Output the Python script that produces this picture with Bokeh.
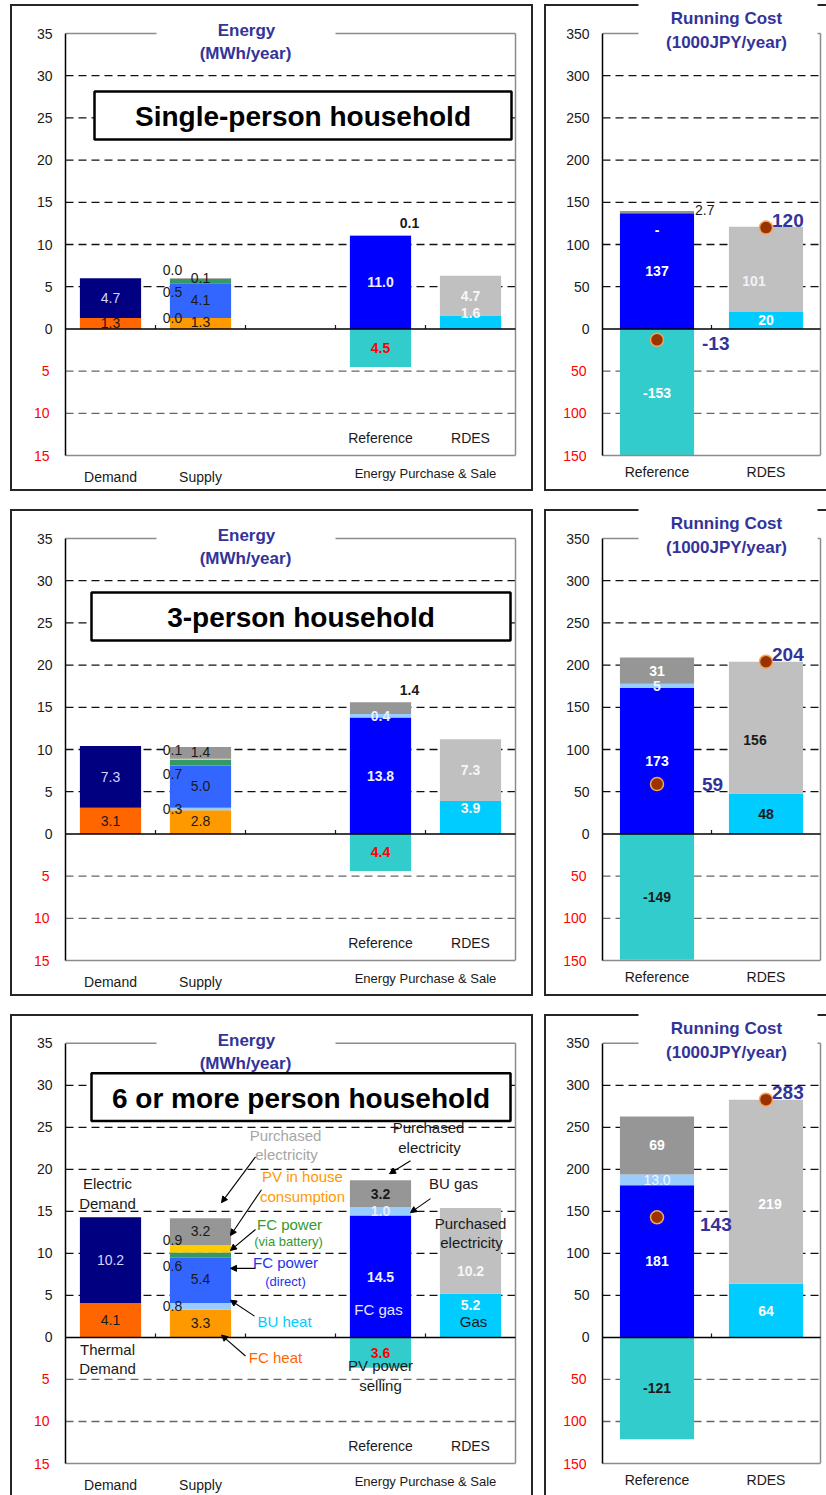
import numpy as np
from bokeh.core.properties import value
from bokeh.embed import file_html
from bokeh.layouts import column, row
from bokeh.models import (Arrow, BoxAnnotation, ColumnDataSource, FixedTicker, Label,
                          LinearAxis, NormalHead, Range1d)
from bokeh.plotting import figure
from bokeh.resources import INLINE

households = ["Single-person household", "3-person household", "6 or more person household"]

# ---- energy balance (MWh/year) ----
demand_thermal = [1.3, 3.1, 4.1]
demand_electric = [4.7, 7.3, 10.2]

supply_fc_heat = [1.3, 2.8, 3.3]
supply_bu_heat = [0.0, 0.3, 0.8]
supply_fc_power_direct = [4.1, 5.0, 5.4]
supply_fc_power_battery = [0.5, 0.7, 0.6]
supply_pv_in_house = [0.0, 0.1, 0.9]
supply_purchased_elec = [0.1, 1.4, 3.2]

ref_fc_gas = [11.0, 13.8, 14.5]
ref_bu_gas = [0.0, 0.4, 1.0]
ref_purchased_elec = [0.1, 1.4, 3.2]
ref_pv_selling = [4.5, 4.4, 3.6]

rdes_gas = [1.6, 3.9, 5.2]
rdes_purchased_elec = [4.7, 7.3, 10.2]

# ---- running cost (1000 JPY/year) ----
cost_ref_fc_gas = [137, 173, 181]
cost_ref_bu_gas = [0, 5, 13.0]
cost_ref_purchased_elec = [2.7, 31, 69]
cost_ref_pv_selling = [-153, -149, -121]
cost_ref_net = [-13, 59, 143]
cost_rdes_gas = [20, 48, 64]
cost_rdes_purchased_elec = [101, 156, 219]
cost_rdes_net = [120, 204, 283]

# ---- axes ----
energy_ticks = [0, 5, 10, 15, 20, 25, 30, 35]
energy_below_ticks = [-5, -10, -15]
cost_ticks = [0, 50, 100, 150, 200, 250, 300, 350]
cost_below_ticks = [-50, -100, -150]
energy_slots = ["Demand", "Supply", "", "Reference", "RDES"]
cost_slots = ["Reference", "RDES"]

# ---- styling ----
FONT = "Liberation Sans"
INK = "#1a1a1a"
TITLE_BLUE = "#333399"
FRAME_GRAY = "#8c8c8c"
WHITE = "#FFFFFF"
COLORS = dict(thermal="#FF6600", electric="#000080", fc_heat="#FF9900", bu="#99CCFF",
              fc_direct="#3366FF", fc_battery="#339966", pv="#FFCC00", grid="#969696",
              fc_gas="#0000FF", pv_sell="#33CCCC", gas="#00CCFF", silver="#C0C0C0",
              dot="#993300", dot_ring="#F5A45D")

ROW_HEIGHTS = [505, 505, 485]
LEFT_W, RIGHT_W = 538, 288
FRAME_TOP, FRAME_H = 33, 422      # plot area inside each panel, in pixels
BAR_W = 0.68


class PixelMap:
    """Converts canvas pixel positions of one panel into its data coordinates."""

    def __init__(self, left, top, width, height, x_range, y_range):
        self.left, self.top, self.width, self.height = left, top, width, height
        self.x0, self.x1 = x_range
        self.y0, self.y1 = y_range

    def x(self, px):
        return self.x0 + (px - self.left) * (self.x1 - self.x0) / self.width

    def y(self, py):
        return self.y1 - (py - self.top) * (self.y1 - self.y0) / self.height

    def h(self, npx):
        return npx * (self.y1 - self.y0) / self.height

    def px(self, dv):
        return dv * self.height / (self.y1 - self.y0)


def txt(p, x, y, s, color=INK, bold=False, size="14px", dx=0, dy=0, align="center"):
    p.text(x=[x], y=[y], text=[s], x_offset=dx, y_offset=dy, text_align=align,
           text_baseline="middle", text_color=color, text_font=value(FONT),
           text_font_size=size, text_font_style="bold" if bold else "normal")


def note(p, m, px, py, s, color=INK, size="14px", bold=False, align="center"):
    p.add_layout(Label(x=m.x(px), y=m.y(py), text=s, text_align=align, text_baseline="middle",
                       text_color=color, text_font=FONT, text_font_size=size,
                       text_font_style="bold" if bold else "normal"))


def rect(p, m, l, t, r, b, fill=None, line=INK, lw=2.0):
    p.add_layout(BoxAnnotation(left=m.x(l), right=m.x(r), top=m.y(t), bottom=m.y(b),
                               fill_color=fill or "white", fill_alpha=1 if fill else 0,
                               line_color=line or "white", line_alpha=1 if line else 0,
                               line_width=lw))


def stack(p, x, layers):
    vals = np.array([v for v, _ in layers], dtype=float)
    tops = np.cumsum(vals)
    bottoms = tops - vals
    src = ColumnDataSource(dict(x=[x] * len(layers), bottom=bottoms, top=tops,
                                color=[c for _, c in layers]))
    p.vbar(x="x", bottom="bottom", top="top", width=BAR_W, fill_color="color",
           line_color=None, source=src)
    return list(zip(bottoms, tops))


def mid(seg):
    return (seg[0] + seg[1]) / 2


def fmt1(v):
    return f"{v:.1f}"


def cost_txt(v):
    return "-" if v == 0 else f"{v}"


def border_css(left, right, top=4, bottom=489, t=2, color="#262626"):
    """Panel frame drawn as CSS background strokes under the transparent canvas."""
    g = f"linear-gradient({color}, {color})"
    span_w = (right if right is not None else 1000) - left
    span_h = bottom + t - top
    layers = [(f"{t}px {span_h}px", f"{left}px {top}px"),
              (f"{span_w}px {t}px", f"{left}px {top}px"),
              (f"{span_w}px {t}px", f"{left}px {bottom}px")]
    if right is not None:
        layers.append((f"{t}px {span_h}px", f"{right - t}px {top}px"))
    return {"background-image": ", ".join([g] * len(layers)),
            "background-size": ", ".join(s for s, _ in layers),
            "background-position": ", ".join(pos for _, pos in layers),
            "background-repeat": "no-repeat"}


AXIS_COMMON = dict(major_tick_line_color=None, minor_tick_line_color=None, major_tick_in=0,
                   major_tick_out=0, major_label_text_font=FONT)


def base_figure(width, height, frame_left, n_slots, xs_px, ys_px, lo, hi, ticks, below_ticks,
                red_standoff, css):
    frame_w = n_slots * xs_px + 2
    frame_h = FRAME_TOP + FRAME_H
    x_range = (0, frame_w / xs_px)
    y_range = (lo, hi + FRAME_TOP / ys_px)
    p = figure(width=width, height=height, x_range=Range1d(*x_range), y_range=Range1d(*y_range),
               min_border_left=frame_left, min_border_right=width - frame_left - frame_w,
               min_border_top=0, min_border_bottom=height - frame_h, title=None, tools="",
               toolbar_location=None, output_backend="svg", x_axis_type=None,
               y_axis_type=None, styles=css)
    p.outline_line_color = None
    p.border_fill_color = None
    p.background_fill_color = None
    m = PixelMap(frame_left, 0, frame_w, frame_h, x_range, y_range)

    # dashed value grid and the grey plot-area edges
    pos = [t for t in ticks if 0 < t < hi]
    neg = [t for t in below_ticks if t > lo]
    p.segment(x0=0, y0=pos, x1=n_slots, y1=pos, line_color="#111111", line_dash="8 5",
              line_width=1.3)
    p.segment(x0=0, y0=neg, x1=n_slots, y1=neg, line_color="#666666", line_dash="8 5",
              line_width=1.3)
    p.segment(x0=[0, n_slots], y0=[hi, lo], x1=[n_slots, n_slots], y1=[hi, hi],
              line_color=FRAME_GRAY, line_width=1.5)

    p.add_layout(LinearAxis(ticker=FixedTicker(ticks=ticks), bounds=(lo, hi),
                            axis_line_color="black", axis_line_width=1.5,
                            major_label_standoff=13, major_label_text_color=INK,
                            major_label_text_font_size="14px", **AXIS_COMMON), "left")
    # amounts below zero are read downward and printed in red
    p.add_layout(LinearAxis(ticker=FixedTicker(ticks=below_ticks),
                            major_label_overrides={t: str(abs(t)) for t in below_ticks},
                            axis_line_color=None, major_label_standoff=red_standoff,
                            major_label_text_color="#FF0000",
                            major_label_text_font_size="14px", **AXIS_COMMON), "left")
    return p, m


def category_axis(p, ticks, names, standoff, size="14px", line=None, bounds="auto"):
    p.add_layout(LinearAxis(ticker=FixedTicker(ticks=ticks),
                            major_label_overrides=dict(zip(ticks, names)),
                            axis_line_color=line, axis_line_width=1.5, bounds=bounds,
                            major_label_standoff=standoff, major_label_text_color=INK,
                            major_label_text_font_size=size, **AXIS_COMMON), "below")


def zero_line(p, m, n_slots):
    seps = list(range(1, n_slots))
    p.segment(x0=seps, y0=[0] * len(seps), x1=seps, y1=[m.h(4)] * len(seps),
              line_color=INK, line_width=1.2)
    p.segment(x0=[0], y0=[0], x1=[n_slots], y1=[0], line_color="black", line_width=1.5)


HOUSEHOLD_BOX = [(94, 91, 511, 139), (91, 87, 510, 135), (91, 63, 510, 111)]
RDES_ELEC_DY = [0, 0, 20]
RDES_GAS_DY = [-2, 7.5, 11]
SUPPLY_SIDE_DY = {1: 0, 3: 11, 4: -9}

# call-outs explaining the stacks of the largest household
CALLOUT_TEXT = [
    ("Electric", INK, "15px", 107, 174), ("Demand", INK, "15px", 107, 194),
    ("Thermal", INK, "15px", 107, 340), ("Demand", INK, "15px", 107, 360),
    ("Purchased", "#A6A6A6", "15px", 285, 126), ("electricity", "#A6A6A6", "15px", 286, 145),
    ("PV in house", "#FF9900", "15px", 302, 167), ("consumption", "#FF9900", "15px", 302, 187),
    ("FC power", "#339933", "15px", 289, 215), ("(via battery)", "#339933", "13px", 288, 232),
    ("FC power", "#2233EE", "15px", 285, 253), ("(direct)", "#2233EE", "13px", 285, 272),
    ("BU heat", "#00CCFF", "15px", 284, 312),
    ("FC heat", "#FF6600", "15px", 275, 349),
    ("Purchased", INK, "15px", 428, 118), ("electricity", INK, "15px", 429, 138),
    ("BU gas", INK, "15px", 453, 174),
    ("Purchased", INK, "15px", 470, 214), ("electricity", INK, "15px", 471, 233),
    ("FC gas", "#E6E6FF", "15px", 378, 300),
    ("PV power", INK, "15px", 380, 357), ("selling", INK, "15px", 380, 377),
    ("Gas", INK, "15px", 473, 312),
]
CALLOUT_ARROWS = [
    (255, 147, 221, 193), (261, 180, 230, 226), (255, 220, 230, 241), (255, 259, 230, 259),
    (254, 307, 230, 291), (245, 347, 221, 326), (410, 151, 389, 164), (430, 189, 410, 203),
]


def energy_panel(i, height):
    n = len(energy_slots)
    lo, hi = energy_below_ticks[-1], energy_ticks[-1]
    p, m = base_figure(LEFT_W, height, 65, n, 90, FRAME_H / (hi - lo), lo, hi,
                       energy_ticks, energy_below_ticks, -16, border_css(10, 533))
    xs = {name: k + 0.5 for k, name in enumerate(energy_slots) if name}
    category_axis(p, [xs["Demand"], xs["Supply"]], ["Demand", "Supply"], 13,
                  line=FRAME_GRAY, bounds=(0, n))
    category_axis(p, [(xs["Reference"] + xs["RDES"]) / 2], ["Energy Purchase & Sale"], -22,
                  size="13px")

    # demand
    dem = stack(p, xs["Demand"], [(demand_thermal[i], COLORS["thermal"]),
                                  (demand_electric[i], COLORS["electric"])])
    # supply
    sup_vals = [supply_fc_heat[i], supply_bu_heat[i], supply_fc_power_direct[i],
                supply_fc_power_battery[i], supply_pv_in_house[i], supply_purchased_elec[i]]
    sup_cols = [COLORS["fc_heat"], COLORS["bu"], COLORS["fc_direct"], COLORS["fc_battery"],
                COLORS["pv"], COLORS["grid"]]
    sup = stack(p, xs["Supply"], list(zip(sup_vals, sup_cols)))
    # conventional reference system
    xr = xs["Reference"]
    ref = stack(p, xr, [(ref_fc_gas[i], COLORS["fc_gas"]), (ref_bu_gas[i], COLORS["bu"]),
                        (ref_purchased_elec[i], COLORS["grid"])])
    p.vbar(x=[xr], bottom=[0], top=[-ref_pv_selling[i]], width=BAR_W,
           fill_color=COLORS["pv_sell"], line_color=None)
    # RDES
    xd = xs["RDES"]
    rds = stack(p, xd, [(rdes_gas[i], COLORS["gas"]), (rdes_purchased_elec[i], COLORS["silver"])])
    zero_line(p, m, n)

    txt(p, xs["Demand"], mid(dem[0]), fmt1(demand_thermal[i]), INK)
    txt(p, xs["Demand"], mid(dem[1]), fmt1(demand_electric[i]), "#D6D6FF")
    for k, (v, seg) in enumerate(zip(sup_vals, sup)):
        if k in SUPPLY_SIDE_DY:
            txt(p, xs["Supply"], mid(seg), fmt1(v), INK, dx=-28, dy=SUPPLY_SIDE_DY[k])
        else:
            txt(p, xs["Supply"], mid(seg), fmt1(v), INK, dy=-1)

    txt(p, xr, mid(ref[0]), fmt1(ref_fc_gas[i]), "#EEEEFF", bold=True)
    if ref_bu_gas[i] > 0:
        txt(p, xr, mid(ref[1]), fmt1(ref_bu_gas[i]), "#E4F0FF", bold=True)
    if m.px(ref[2][1] - ref[2][0]) < 15:
        txt(p, xr, ref[2][1], fmt1(ref_purchased_elec[i]), INK, bold=True, dx=29, dy=-12)
    else:
        txt(p, xr, mid(ref[2]), fmt1(ref_purchased_elec[i]), INK, bold=True)
    txt(p, xr, -ref_pv_selling[i] / 2, fmt1(ref_pv_selling[i]), "#FF0000", bold=True)

    txt(p, xd, mid(rds[1]), fmt1(rdes_purchased_elec[i]), "#F7F7F7", bold=True, dy=RDES_ELEC_DY[i])
    txt(p, xd, rds[0][1], fmt1(rdes_gas[i]), "#F7F7F7", bold=True, dy=RDES_GAS_DY[i])

    for name in ("Reference", "RDES"):
        txt(p, xs[name], m.y(437), name, INK)

    # titles
    rect(p, m, 156, 27, 335, 39, fill="white", line=None)
    note(p, m, 246, 30, "Energy", TITLE_BLUE, "17px", bold=True)
    note(p, m, 245, 53, "(MWh/year)", TITLE_BLUE, "17px", bold=True)
    l, t, r, b = HOUSEHOLD_BOX[i]
    rect(p, m, l, t, r, b, fill="white", line="black", lw=2.5)
    note(p, m, (l + r) / 2, (t + b) / 2 + 1, households[i], "black", "28px", bold=True)

    if i == 2:
        for s, color, size, px, py in CALLOUT_TEXT:
            note(p, m, px, py, s, color, size)
        for x0, y0, x1, y1 in CALLOUT_ARROWS:
            p.add_layout(Arrow(x_start=m.x(x0), y_start=m.y(y0), x_end=m.x(x1), y_end=m.y(y1),
                               line_color="black", line_width=1.1,
                               end=NormalHead(size=6, fill_color="black", line_color="black",
                                              line_width=1)))
    return p


SELL_LABEL_COLOR = ["#FFFFFF", INK, INK]
GAS_LABEL_COLOR = ["#FFFFFF", INK, "#FFFFFF"]
ELEC_LABEL_COLOR = ["#F2F2F2", INK, "#FFFFFF"]
ELEC_LABEL_DX = [-12, -11, 4]
BU_LABEL_BOLD = [True, True, False]
REF_NET_DX = [45, 45, 43]
REF_NET_DY = [4, 0, 7]


def cost_panel(i, height):
    n = len(cost_slots)
    lo, hi = cost_below_ticks[-1], cost_ticks[-1]
    p, m = base_figure(RIGHT_W, height, 64, n, 109, FRAME_H / (hi - lo), lo, hi,
                       cost_ticks, cost_below_ticks, -23, border_css(6, None))
    xs = {name: k + 0.5 for k, name in enumerate(cost_slots)}
    category_axis(p, list(xs.values()), list(xs.keys()), 8, line=FRAME_GRAY, bounds=(0, n))

    xr, xd = xs["Reference"], xs["RDES"]
    ref = stack(p, xr, [(cost_ref_fc_gas[i], COLORS["fc_gas"]), (cost_ref_bu_gas[i], COLORS["bu"]),
                        (cost_ref_purchased_elec[i], COLORS["grid"])])
    p.vbar(x=[xr], bottom=[0], top=[cost_ref_pv_selling[i]], width=BAR_W,
           fill_color=COLORS["pv_sell"], line_color=None)
    rds = stack(p, xd, [(cost_rdes_gas[i], COLORS["gas"]),
                        (cost_rdes_purchased_elec[i], COLORS["silver"])])
    zero_line(p, m, n)
    p.scatter(x=[xr, xd], y=[cost_ref_net[i], cost_rdes_net[i]], size=13,
              fill_color=COLORS["dot"], line_color=COLORS["dot_ring"], line_width=1.5)

    txt(p, xr, mid(ref[0]), cost_txt(cost_ref_fc_gas[i]), WHITE, bold=True)
    v = cost_ref_bu_gas[i]
    if v == 0:
        txt(p, xr, ref[1][1], cost_txt(v), WHITE, bold=True, dy=17)
    else:
        txt(p, xr, mid(ref[1]), cost_txt(v), "#F0F7FF", bold=BU_LABEL_BOLD[i])
    v = cost_ref_purchased_elec[i]
    if m.px(v) < 15:
        txt(p, xr, ref[2][1], cost_txt(v), INK, dx=38, dy=-1, align="left")
    else:
        txt(p, xr, mid(ref[2]), cost_txt(v), WHITE, bold=True)
    txt(p, xr, cost_ref_pv_selling[i] / 2, cost_txt(cost_ref_pv_selling[i]),
        SELL_LABEL_COLOR[i], bold=True)
    txt(p, xd, mid(rds[0]), cost_txt(cost_rdes_gas[i]), GAS_LABEL_COLOR[i], bold=True)
    txt(p, xd, mid(rds[1]), cost_txt(cost_rdes_purchased_elec[i]), ELEC_LABEL_COLOR[i],
        bold=True, dx=ELEC_LABEL_DX[i], dy=12)

    # net running cost after PV sales
    txt(p, xr, cost_ref_net[i], str(cost_ref_net[i]), TITLE_BLUE, bold=True, size="19px",
        dx=REF_NET_DX[i], dy=REF_NET_DY[i], align="left")
    txt(p, xd, cost_rdes_net[i], str(cost_rdes_net[i]), TITLE_BLUE, bold=True, size="19px",
        dx=6, dy=-7, align="left")

    rect(p, m, 100, -2, 279, 38, fill="white", line=None)
    note(p, m, 188, 18, "Running Cost", TITLE_BLUE, "17px", bold=True)
    note(p, m, 188, 42, "(1000JPY/year)", TITLE_BLUE, "17px", bold=True)
    return p


rows = [row(energy_panel(i, h), cost_panel(i, h)) for i, h in enumerate(ROW_HEIGHTS)]
page = column(*rows)

open("out.html", "w").write(file_html(page, INLINE, title="Energy and running cost by household size"))
